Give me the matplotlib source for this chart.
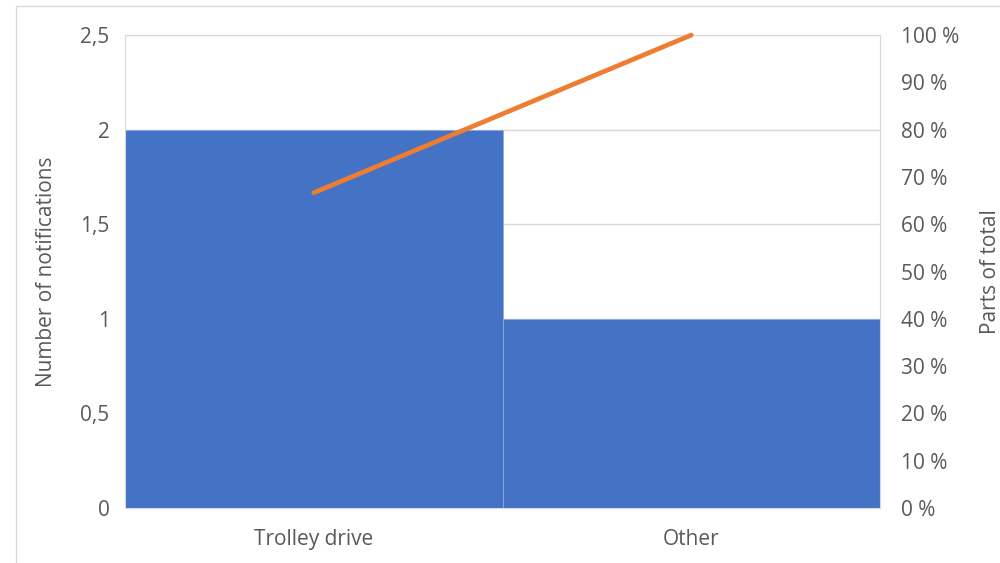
import numpy as np
import matplotlib.pyplot as plt
from matplotlib.patches import Rectangle
from matplotlib.ticker import FuncFormatter

# data
categories = ['Trolley drive', 'Other']
counts = [2, 1]

plt.rcParams['font.family'] = ['Open Sans', 'DejaVu Sans']
txt = '#595959'
grid = '#D9D9D9'
fs = 15

cum = np.cumsum(counts) / np.sum(counts) * 100

fig = plt.figure(figsize=(10, 5.63), dpi=100)
ax = fig.add_axes([0.125, 0.0977, 0.755, 0.840])

x = np.arange(len(categories))
ax.bar(x, counts, width=1.0, color='#4472C4', edgecolor='#8FAADC', linewidth=0.6, zorder=2)
ax.set_xlim(-0.5, len(categories) - 0.5)
ax.set_ylim(0, 2.5)
ax.set_yticks(np.arange(0, 2.51, 0.5))
ax.yaxis.set_major_formatter(FuncFormatter(lambda v, p: ('%g' % v).replace('.', ',')))
ax.set_xticks(x)
ax.set_xticklabels(categories)
ax.grid(axis='y', color=grid, linewidth=1, zorder=0)
for s in ax.spines.values():
    s.set_color(grid)
ax.tick_params(length=0, colors=txt, labelsize=fs, pad=11)
ax.tick_params(axis='x', pad=15)
ax.set_ylabel('Number of notifications', color=txt, fontsize=fs, labelpad=17)

ax2 = ax.twinx()
ax2.plot(x, cum, color='#ED7D31', linewidth=3.4, solid_capstyle='round', zorder=3, clip_on=False)
ax2.set_ylim(0, 100)
ax2.set_yticks(np.arange(0, 101, 10))
ax2.yaxis.set_major_formatter(FuncFormatter(lambda v, p: '%d %%' % v))
ax2.tick_params(length=0, colors=txt, labelsize=fs, pad=15)
for s in ax2.spines.values():
    s.set_visible(False)
ax2.set_ylabel('Parts of total', color=txt, fontsize=fs, labelpad=15)

# outer chart frame (right and bottom edges fall outside the image)
fig.patches.append(Rectangle((0.016, -0.1), 1.1, 1.089, transform=fig.transFigure,
                             fill=False, edgecolor=grid, linewidth=1, zorder=0))

fig.savefig('out.png', dpi=100)
